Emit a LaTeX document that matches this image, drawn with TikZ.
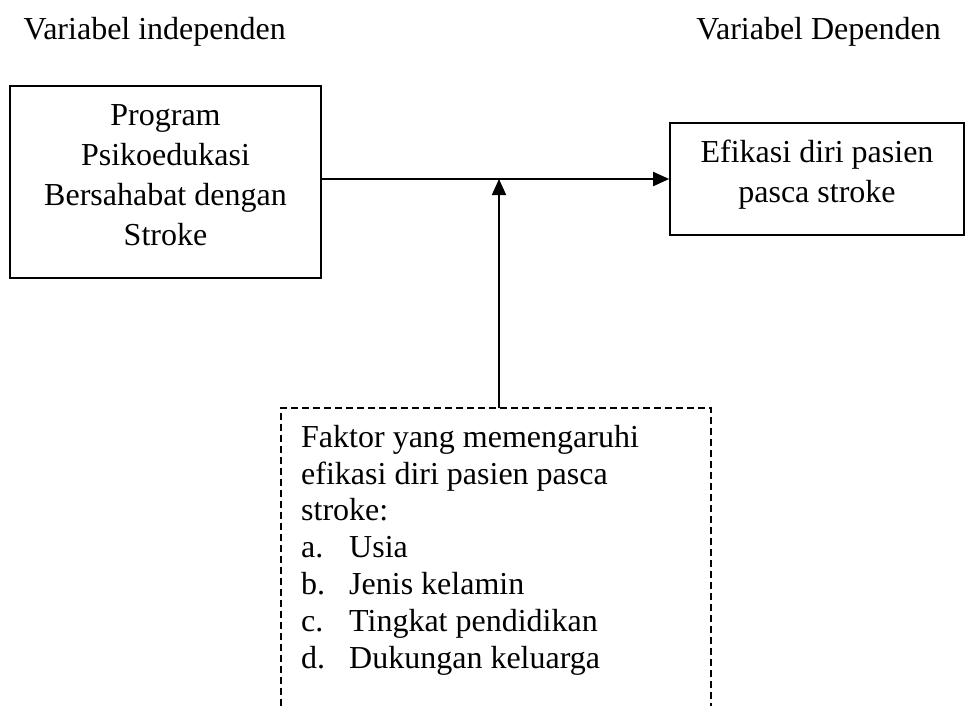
\documentclass[tikz,border=0pt]{standalone}
\usepackage{fontspec}
\setmainfont{Liberation Serif}
\usetikzlibrary{arrows.meta}
\begin{document}
\begin{tikzpicture}[x=1pt,y=-1pt,
  box/.style={draw, line width=1.6pt, inner sep=0pt},
  txt/.style={font=\fontsize{32}{40}\selectfont, inner sep=0pt},
  listtxt/.style={font=\fontsize{32}{36.8}\selectfont, inner sep=0pt, align=left},
  conn/.style={line width=1.8pt, -{Triangle[length=16pt,width=14pt]}},
  dashbox/.style={line width=1.4pt, dash pattern=on 7pt off 4pt}]
\useasboundingbox (0,0) rectangle (968,706);
% titles
\node[txt, anchor=base west] (tl) at (23.5,40) {Variabel independen};
\node[txt, anchor=base east] (tr) at (941,40) {Variabel Dependen};
% left box
\node[box, minimum width=311pt, minimum height=192pt] (prog) at (165.5,182) {};
\node[txt, align=center, anchor=base] (progtxt) at (165.5,245)
  {Program\\Psikoedukasi\\Bersahabat dengan\\Stroke};
% right box
\node[box, minimum width=294pt, minimum height=112pt] (eff) at (817,179) {};
\node[txt, align=center, anchor=base] (efftxt) at (817,202)
  {Efikasi diri pasien\\pasca stroke};
% dashed box (open at bottom)
\coordinate (d1) at (281,706);
\coordinate (d2) at (281,408);
\coordinate (d3) at (711,408);
\coordinate (d4) at (711,706);
\draw[dashbox] (d1) -- (d2) -- (d3) -- (d4);
\node[listtxt, anchor=base west] (fak) at (301,668)
  {Faktor yang memengaruhi\\efikasi diri pasien pasca\\stroke:\\
   \makebox[48pt][l]{a.}Usia\\
   \makebox[48pt][l]{b.}Jenis kelamin\\
   \makebox[48pt][l]{c.}Tingkat pendidikan\\
   \makebox[48pt][l]{d.}Dukungan keluarga};
% connectors
\coordinate (src) at (499,408);
\draw[conn] (prog.east |- eff.west) -- (eff.west);
\draw[conn] (src) -- (src |- eff.west);
\end{tikzpicture}
\end{document}
